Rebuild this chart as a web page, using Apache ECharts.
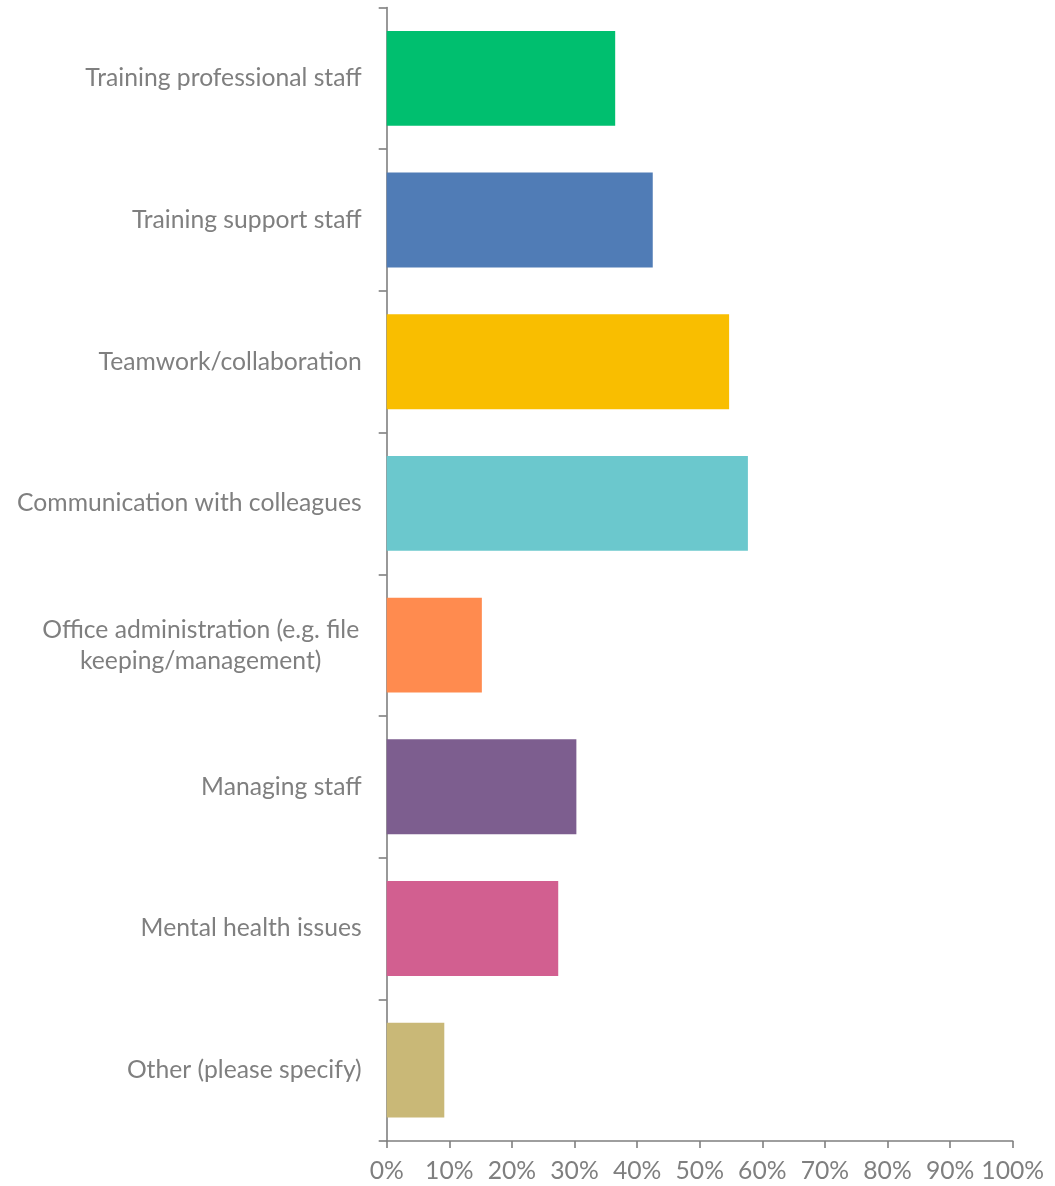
<!DOCTYPE html>
<html>
<head>
<meta charset="utf-8">
<title>Areas needing support</title>
<script src="https://cdn.jsdelivr.net/npm/echarts@6/dist/echarts.min.js"></script>
<style>
  html, body { margin: 0; padding: 0; background: #ffffff; }
  #chart { width: 1055px; height: 1186px; }
</style>
</head>
<body>
<div id="chart"></div>
<script>
// Survey categories, top to bottom
const categories = [
  'Training professional staff',
  'Training support staff',
  'Teamwork/collaboration',
  'Communication with colleagues',
  'Office administration (e.g. file\nkeeping/management)',
  'Managing staff',
  'Mental health issues',
  'Other (please specify)'
];

// Share of respondents, percent
const values = [36.5, 42.5, 54.7, 57.7, 15.2, 30.3, 27.4, 9.2];

// One colour per bar
const barColors = ['#00BF6F', '#507CB6', '#F9BE00', '#6BC8CD', '#FF8B4F', '#7D5E8F', '#D25F90', '#C9B877'];

// Value axis ticks
const tickValues = [0, 10, 20, 30, 40, 50, 60, 70, 80, 90, 100];

const FONT = 'Lato, "Open Sans", sans-serif';
const FONT_SIZE = 24.7;
const GREY = '#7f7f7f';
const AXIS_LINE = { color: '#7f7f7f', width: 1.6 };

const chart = echarts.init(document.getElementById('chart'), null, { renderer: 'canvas' });

chart.setOption({
  animation: false,
  backgroundColor: '#ffffff',
  grid: { left: 386.7, right: 42.3, top: 7.5, bottom: 45, containLabel: false },
  xAxis: {
    type: 'value',
    min: tickValues[0],
    max: tickValues[tickValues.length - 1],
    interval: tickValues[1] - tickValues[0],
    axisLine: { show: true, lineStyle: AXIS_LINE },
    axisTick: { show: true, length: 7, lineStyle: AXIS_LINE },
    splitLine: { show: false },
    axisLabel: {
      color: GREY, fontFamily: FONT, fontSize: FONT_SIZE, margin: 18,
      formatter: v => v + '%'
    }
  },
  yAxis: {
    type: 'category',
    inverse: true,
    data: categories,
    axisLine: { show: true, lineStyle: AXIS_LINE },
    axisTick: { show: true, length: 8, lineStyle: AXIS_LINE },
    axisLabel: {
      color: GREY, fontFamily: FONT, fontSize: FONT_SIZE, margin: 25, lineHeight: 31,
      formatter: v => v.indexOf('\n') >= 0
        ? v.split('\n').map(line => '{c|' + line + '}').join('\n')
        : v,
      rich: {
        c: { width: 322, align: 'center', color: GREY, fontFamily: FONT, fontSize: FONT_SIZE, lineHeight: 31 }
      }
    }
  },
  series: [{
    type: 'bar',
    data: values.map((v, i) => ({ value: v, itemStyle: { color: barColors[i] } })),
    barCategoryGap: '33%'
  }]
});
</script>
</body>
</html>
